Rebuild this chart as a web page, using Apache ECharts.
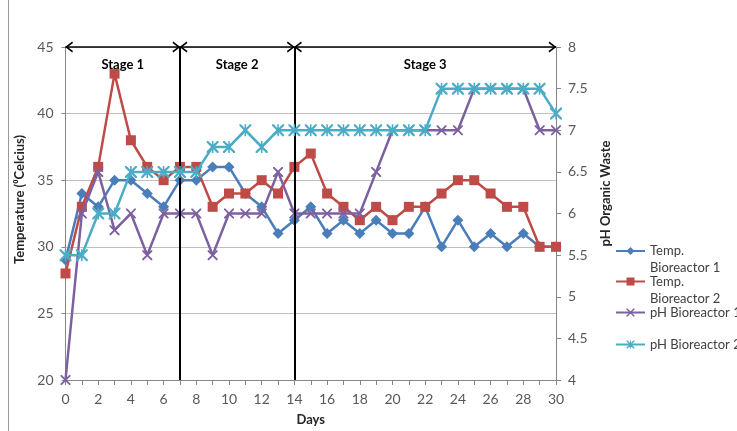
<!DOCTYPE html>
<html>
<head>
<meta charset="utf-8">
<script src="https://cdn.jsdelivr.net/npm/echarts@6/dist/echarts.min.js"></script>
<style>
  html, body { margin: 0; padding: 0; background: #ffffff; }
  #chart { width: 737px; height: 431px; }
</style>
</head>
<body>
<div id="chart"></div>
<script>
// Days of the digestion run
const days = [0, 1, 2, 3, 4, 5, 6, 7, 8, 9, 10, 11, 12, 13, 14, 15, 16, 17, 18, 19, 20, 21, 22, 23, 24, 25, 26, 27, 28, 29, 30];

// Temperature (°C), left axis
const tempBioreactor1 = [29, 34, 33, 35, 35, 34, 33, 35, 35, 36, 36, 34, 33, 31, 32, 33, 31, 32, 31, 32, 31, 31, 33, 30, 32, 30, 31, 30, 31, 30, 30];
const tempBioreactor2 = [28, 33, 36, 43, 38, 36, 35, 36, 36, 33, 34, 34, 35, 34, 36, 37, 34, 33, 32, 33, 32, 33, 33, 34, 35, 35, 34, 33, 33, 30, 30];

// pH of the organic waste, right axis
const phBioreactor1 = [4, 6, 6.5, 5.8, 6, 5.5, 6, 6, 6, 5.5, 6, 6, 6, 6.5, 6, 6, 6, 6, 6, 6.5, 7, 7, 7, 7, 7, 7.5, 7.5, 7.5, 7.5, 7, 7];
const phBioreactor2 = [5.5, 5.5, 6, 6, 6.5, 6.5, 6.5, 6.5, 6.5, 6.8, 6.8, 7, 6.8, 7, 7, 7, 7, 7, 7, 7, 7, 7, 7, 7.5, 7.5, 7.5, 7.5, 7.5, 7.5, 7.5, 7.2];

const seriesNames = ['Temp. Bioreactor 1', 'Temp. Bioreactor 2', 'pH Bioreactor 1', 'pH Bioreactor 2'];

// Process stages: boundaries in days and their captions
const stageBounds = [0, 7, 14, 30];
const stageLabels = ['Stage 1', 'Stage 2', 'Stage 3'];

// Axis ranges
const tempAxis = { min: 20, max: 45, step: 5 };
const phAxis = { min: 4, max: 8, step: 0.5 };

const FONT = 'Lato, "Noto Sans", sans-serif';
const COLORS = ['#4A7EBB', '#BE4B48', '#7D60A0', '#4BACC6'];

// Marker shapes
const crossPath = 'M0,0L1.3,0L5,3.7L8.7,0L10,0L10,1.3L6.3,5L10,8.7L10,10L8.7,10L5,6.3L1.3,10L0,10L0,8.7L3.7,5L0,1.3Z';
const barPath = 'M4.35,0L5.65,0L5.65,10L4.35,10Z';
const crossSymbol = 'path://' + crossPath;
const starSymbol = 'path://' + crossPath + barPath;
// open arrow head whose tip sits at the centre of its box
const arrowHead = 'path://M5,7L10,14L8.7,14.8L5,9.6L1.3,14.8L0,14ZM5,0L5.01,0L5,0.01Z';

function pairs(values) {
  return days.map((d, i) => [d, values[i]]);
}

// Stage dividers and arrows along the top edge
const stageLines = [];
for (let i = 1; i < stageBounds.length - 1; i++) {
  stageLines.push([
    { coord: [stageBounds[i], tempAxis.min], symbol: 'none', lineStyle: { color: '#000', width: 2, type: 'solid' } },
    { coord: [stageBounds[i], tempAxis.max], symbol: 'none' }
  ]);
}
for (let i = 0; i < stageLabels.length; i++) {
  stageLines.push([
    {
      coord: [stageBounds[i], tempAxis.max],
      symbol: arrowHead,
      lineStyle: { color: '#000', width: 1.5, type: 'solid' },
      label: {
        show: true,
        formatter: stageLabels[i],
        position: 'insideMiddleBottom',
        distance: 11,
        color: '#000',
        fontFamily: FONT,
        fontWeight: 'bold',
        fontSize: 13
      }
    },
    { coord: [stageBounds[i + 1], tempAxis.max], symbol: arrowHead }
  ]);
}

const seriesData = [tempBioreactor1, tempBioreactor2, phBioreactor1, phBioreactor2];
const symbols = ['diamond', 'rect', crossSymbol, starSymbol];
const symbolSizes = [11, 10, 10, 12];
const axisIndex = [0, 0, 1, 1];

const series = seriesData.map((values, i) => {
  const s = {
    name: seriesNames[i],
    type: 'line',
    yAxisIndex: axisIndex[i],
    data: pairs(values),
    symbol: symbols[i],
    symbolSize: symbolSizes[i],
    showAllSymbol: true,
    lineStyle: { color: COLORS[i], width: 2.5 },
    itemStyle: { color: COLORS[i] },
    emphasis: { disabled: true },
    z: 2 + i
  };
  if (i === 0) {
    s.markLine = {
      silent: true,
      symbolSize: [11, 15],
      label: { show: false },
      lineStyle: { color: '#000' },
      emphasis: { disabled: true },
      data: stageLines
    };
  }
  return s;
});

const legendText = {
  fontFamily: FONT,
  fontSize: 13,
  color: '#404040',
  lineHeight: 17,
  overflow: 'none',
  width: 200
};

// One legend per entry so each can be placed on its own.
// Two-line names get an empty leading line so the first line sits beside the icon.
const legendTops = [225.5, 256, 304, 336];
const legends = seriesNames.map((name, i) => ({
  data: [name],
  left: 615,
  top: legendTops[i],
  width: 200,
  orient: 'vertical',
  padding: 0,
  itemWidth: 29,
  itemHeight: 10,
  itemGap: 0,
  selectedMode: false,
  formatter: n => (n.indexOf('Temp. ') === 0 ? '\n' + n.replace('Temp. ', 'Temp.\n') : n),
  textStyle: legendText
}));

const axisGray = '#868686';
const labelGray = '#595959';

const option = {
  animation: false,
  textStyle: { fontFamily: FONT },
  grid: { left: 65.5, right: 181, top: 47, bottom: 50, containLabel: false },
  legend: legends,
  xAxis: {
    type: 'value',
    min: days[0],
    max: days[days.length - 1],
    interval: 1,
    name: 'Days',
    nameLocation: 'middle',
    nameGap: 33,
    nameTextStyle: { fontFamily: FONT, fontWeight: 'bold', fontSize: 13, color: '#262626' },
    axisLine: { lineStyle: { color: axisGray } },
    axisTick: { length: 5, lineStyle: { color: axisGray } },
    axisLabel: {
      fontSize: 14,
      color: labelGray,
      margin: 12,
      formatter: v => (v % 2 === 0 ? String(v) : '')
    },
    splitLine: { show: false }
  },
  yAxis: [
    {
      type: 'value',
      position: 'left',
      min: tempAxis.min,
      max: tempAxis.max,
      interval: tempAxis.step,
      name: 'Temperature (\u2070Celcius)',
      nameLocation: 'middle',
      nameGap: 37,
      nameTextStyle: { fontFamily: FONT, fontWeight: 'bold', fontSize: 13, color: '#262626', padding: [0, 0, 0, 28] },
      axisLine: { show: true, lineStyle: { color: axisGray } },
      axisTick: { show: true, length: 4, lineStyle: { color: axisGray } },
      axisLabel: { fontSize: 14, color: labelGray, margin: 12 },
      splitLine: { show: true, lineStyle: { color: '#bfbfbf', width: 1 } }
    },
    {
      type: 'value',
      position: 'right',
      min: phAxis.min,
      max: phAxis.max,
      interval: phAxis.step,
      name: 'pH Organic Waste',
      nameLocation: 'middle',
      nameGap: 43,
      nameTextStyle: { fontFamily: FONT, fontWeight: 'bold', fontSize: 13, color: '#262626', padding: [0, 0, 0, 40] },
      axisLine: { show: true, lineStyle: { color: axisGray } },
      axisTick: { show: true, length: 5, lineStyle: { color: axisGray } },
      axisLabel: { fontSize: 14, color: labelGray, margin: 12 },
      splitLine: { show: false }
    }
  ],
  graphic: [
    { type: 'line', shape: { x1: 8.5, y1: 0, x2: 8.5, y2: 431 }, style: { stroke: '#9a9a9a', lineWidth: 1 }, silent: true }
  ],
  series: series
};

const chart = echarts.init(document.getElementById('chart'), null, { renderer: 'canvas' });
chart.setOption(option);
</script>
</body>
</html>
